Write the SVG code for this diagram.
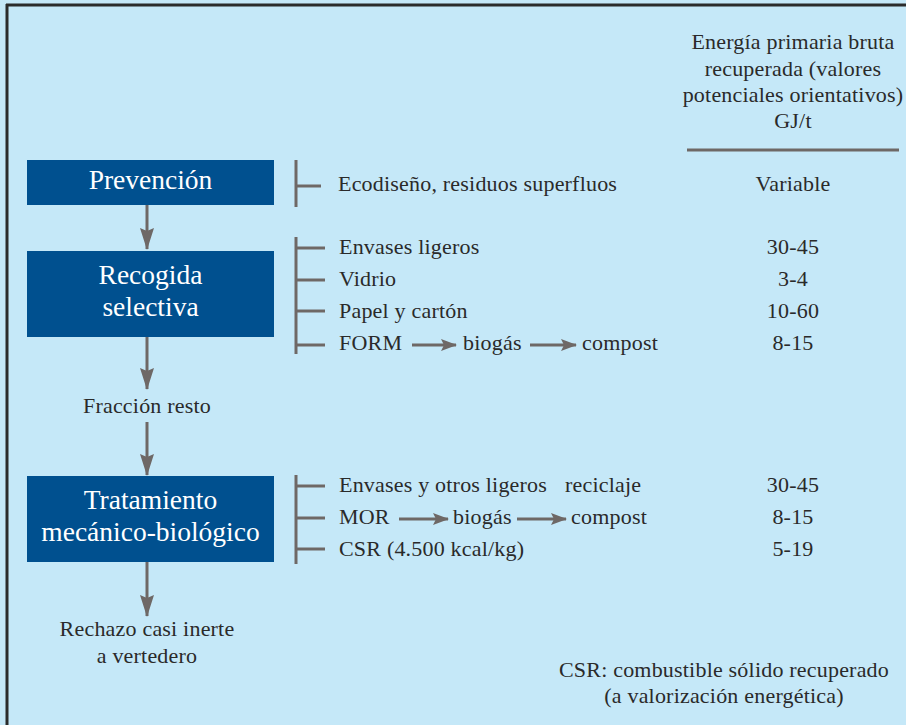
<svg xmlns="http://www.w3.org/2000/svg" width="906" height="725" viewBox="0 0 906 725">
<defs>
<style>
.bg{fill:#c5e8f8}
.box{fill:#00508f}
.bt{font-size:27.5px;fill:#ffffff;text-anchor:middle}
.t{font-size:22px;fill:#2a2a2a;letter-spacing:0.2px}
.c{text-anchor:middle}
.ln{stroke:#6e6866;stroke-width:3;fill:none}
.ah{fill:#6e6866}
</style>
<marker id="av" markerWidth="22" markerHeight="14" refX="21" refY="7" orient="auto" markerUnits="userSpaceOnUse" viewBox="0 0 22 14">
<path d="M0,0 L3,7 L0,14 L22,7 Z" class="ah"/>
</marker>
<marker id="ah" markerWidth="16" markerHeight="12" refX="15" refY="6" orient="auto" markerUnits="userSpaceOnUse" viewBox="0 0 16 12">
<path d="M0,0 L16,6 L0,12 L3,6 Z" class="ah"/>
</marker>
</defs>
<rect class="bg" x="0" y="0" width="906" height="725"/>
<line x1="6" y1="5" x2="906" y2="5" stroke="#2b2b2b" stroke-width="3"/>
<line x1="7" y1="4" x2="7" y2="725" stroke="#2b2b2b" stroke-width="3"/>

<g id="header">
<text class="t c" style="font-family:'Liberation Serif',serif" x="793" y="49">Energía primaria bruta</text>
<text class="t c" style="font-family:'Liberation Serif',serif" x="793" y="76">recuperada (valores</text>
<text class="t c" style="font-family:'Liberation Serif',serif" x="793" y="102">potenciales orientativos)</text>
<text class="t c" style="font-family:'Liberation Serif',serif" x="793" y="128">GJ/t</text>
<line x1="687" y1="150" x2="899" y2="150" stroke="#6e6866" stroke-width="3"/>
</g>

<g id="prevencion">
<rect class="box" x="27" y="160" width="247" height="45"/>
<text class="bt" style="font-family:'Liberation Serif',serif" x="150.5" y="189">Prevención</text>
</g>
<g id="recogida">
<rect class="box" x="27" y="251" width="247" height="86"/>
<text class="bt" style="font-family:'Liberation Serif',serif" x="150.5" y="284">Recogida</text>
<text class="bt" style="font-family:'Liberation Serif',serif" x="150.5" y="316">selectiva</text>
</g>
<g id="fraccion">
<text class="t c" style="font-family:'Liberation Serif',serif" x="147" y="413">Fracción resto</text>
</g>
<g id="tratamiento">
<rect class="box" x="27" y="476" width="247" height="86"/>
<text class="bt" style="font-family:'Liberation Serif',serif" x="150.5" y="509">Tratamiento</text>
<text class="bt" style="font-family:'Liberation Serif',serif" x="150.5" y="541">mecánico-biológico</text>
</g>
<g id="rechazo">
<text class="t c" style="font-family:'Liberation Serif',serif" x="147" y="636">Rechazo casi inerte</text>
<text class="t c" style="font-family:'Liberation Serif',serif" x="147" y="663">a vertedero</text>
</g>

<g id="connectors">
<line class="ln" x1="147" y1="205" x2="147" y2="249" marker-end="url(#av)"/>
<line class="ln" x1="147" y1="337" x2="147" y2="389" marker-end="url(#av)"/>
<line class="ln" x1="147" y1="422" x2="147" y2="475" marker-end="url(#av)"/>
<line class="ln" x1="147" y1="562" x2="147" y2="616" marker-end="url(#av)"/>
<line class="ln" x1="296" y1="160" x2="296" y2="207"/>
<line class="ln" x1="296" y1="186" x2="321" y2="186"/>
<line class="ln" x1="296" y1="237" x2="296" y2="354"/>
<line class="ln" x1="296" y1="248" x2="325" y2="248"/>
<line class="ln" x1="296" y1="280" x2="325" y2="280"/>
<line class="ln" x1="296" y1="311" x2="325" y2="311"/>
<line class="ln" x1="296" y1="345" x2="325" y2="345"/>
<line class="ln" x1="296" y1="475" x2="296" y2="564"/>
<line class="ln" x1="296" y1="486" x2="325" y2="486"/>
<line class="ln" x1="296" y1="518" x2="325" y2="518"/>
<line class="ln" x1="296" y1="549" x2="325" y2="549"/>
<line class="ln" x1="412" y1="345" x2="456" y2="345" marker-end="url(#ah)"/>
<line class="ln" x1="530" y1="345" x2="576" y2="345" marker-end="url(#ah)"/>
<line class="ln" x1="399" y1="519" x2="448" y2="519" marker-end="url(#ah)"/>
<line class="ln" x1="517" y1="519" x2="566" y2="519" marker-end="url(#ah)"/>
</g>

<g id="items">
<text class="t" style="font-family:'Liberation Serif',serif" x="338" y="191">Ecodiseño, residuos superfluos</text>
<text class="t" style="font-family:'Liberation Serif',serif" x="339" y="254">Envases ligeros</text>
<text class="t" style="font-family:'Liberation Serif',serif" x="339" y="286">Vidrio</text>
<text class="t" style="font-family:'Liberation Serif',serif" x="339" y="318">Papel y cartón</text>
<text class="t" style="font-family:'Liberation Serif',serif" x="339" y="350">FORM</text>
<text class="t" style="font-family:'Liberation Serif',serif" x="463" y="350">biogás</text>
<text class="t" style="font-family:'Liberation Serif',serif" x="582" y="350">compost</text>
<text class="t" style="font-family:'Liberation Serif',serif" x="339" y="492">Envases y otros ligeros</text>
<text class="t" style="font-family:'Liberation Serif',serif" x="565" y="492">reciclaje</text>
<text class="t" style="font-family:'Liberation Serif',serif" x="339" y="524">MOR</text>
<text class="t" style="font-family:'Liberation Serif',serif" x="453" y="524">biogás</text>
<text class="t" style="font-family:'Liberation Serif',serif" x="571" y="524">compost</text>
<text class="t" style="font-family:'Liberation Serif',serif" x="339" y="556">CSR (4.500 kcal/kg)</text>
</g>

<g id="values">
<text class="t c" style="font-family:'Liberation Serif',serif" x="793" y="191">Variable</text>
<text class="t c" style="font-family:'Liberation Serif',serif" x="793" y="254">30-45</text>
<text class="t c" style="font-family:'Liberation Serif',serif" x="793" y="286">3-4</text>
<text class="t c" style="font-family:'Liberation Serif',serif" x="793" y="318">10-60</text>
<text class="t c" style="font-family:'Liberation Serif',serif" x="793" y="350">8-15</text>
<text class="t c" style="font-family:'Liberation Serif',serif" x="793" y="492">30-45</text>
<text class="t c" style="font-family:'Liberation Serif',serif" x="793" y="524">8-15</text>
<text class="t c" style="font-family:'Liberation Serif',serif" x="793" y="556">5-19</text>
</g>

<g id="note">
<text class="t c" style="font-family:'Liberation Serif',serif" x="724" y="677">CSR: combustible sólido recuperado</text>
<text class="t c" style="font-family:'Liberation Serif',serif" x="724" y="703">(a valorización energética)</text>
</g>
</svg>
